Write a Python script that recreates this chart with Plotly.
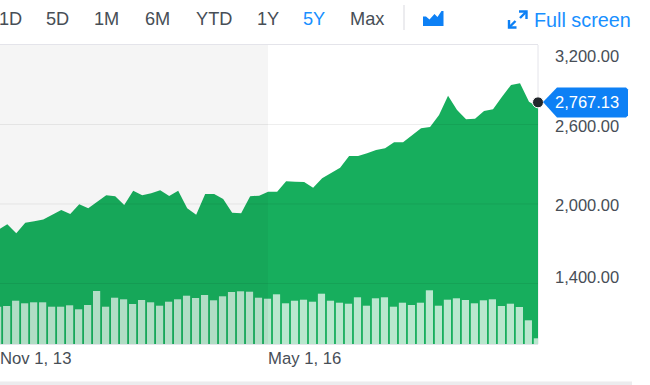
import plotly.graph_objects as go
import pandas as pd

W, H = 650, 385

dates = [d.strftime("%b %-d, %y") for d in pd.date_range("2013-11-01", periods=61, freq="MS")]
closes = [1804, 1847, 1779, 1859, 1869, 1882, 1919, 1955, 1925, 1998, 1968, 2017, 2066, 2058, 1992, 2100,
          2066, 2081, 2103, 2060, 2100, 1968, 1919, 2075, 2075, 2038, 1934, 1930, 2058, 2063, 2093, 2093,
          2171, 2168, 2166, 2123, 2194, 2234, 2274, 2362, 2362, 2383, 2408, 2420, 2466, 2466, 2517, 2571,
          2581, 2672, 2817, 2709, 2639, 2644, 2702, 2715, 2810, 2898, 2911, 2772, 2730]
volumes = [3.73, 3.8, 4.33, 4.07, 4.17, 4.17, 3.73, 3.73, 3.87, 3.47, 3.9, 5.3, 3.73, 4.63, 4.47, 4.0,
           4.4, 4.17, 3.83, 4.23, 4.47, 4.83, 4.6, 4.9, 4.37, 4.77, 5.2, 5.27, 5.23, 4.63, 4.53, 4.97,
           4.07, 4.33, 4.43, 4.23, 5.03, 4.33, 4.13, 4.03, 4.67, 3.83, 4.57, 4.67, 3.73, 4.13, 3.9, 4.13,
           5.37, 3.83, 4.43, 4.57, 4.4, 4.07, 4.37, 4.47, 3.8, 4.03, 3.7, 2.37, 0.57]
last_price = 2767.13
last_label = "2,767.13"
grid_values = [2600, 2000, 1400]
y_tick_labels = ["3,200.00", "2,600.00", "2,000.00", "1,400.00"]
y_tick_rows = [56, 126, 205, 277]
x_tick_labels = ["Nov 1, 13", "May 1, 16"]
x_tick_cols = [0, 268]
range_buttons = ["1D", "5D", "1M", "6M", "YTD", "1Y", "5Y", "Max"]
range_cols = [-1, 46, 94, 144.5, 196, 257, 303, 350]

BLUE = "#0d80f5"
GREY = "#474e56"
FONT = "Liberation Sans, Arial, sans-serif"


def px(x):
    return x / W


def py(y):
    return 1 - y / H


def path(points, close=True):
    d = "M" + " L".join(f"{px(x):.5f},{py(y):.5f}" for x, y in points)
    return d + (" Z" if close else "")


fig = go.Figure()
fig.add_trace(go.Scatter(x=dates, y=closes, mode="lines", line=dict(width=0), fill="tozeroy",
                         fillcolor="rgba(5,168,81,0.93)", hoverinfo="skip", showlegend=False))
fig.add_trace(go.Bar(x=dates, y=volumes, yaxis="y2", width=0.8, offset=-0.47,
                     marker=dict(color="rgba(255,255,255,0.7)", line=dict(width=0)),
                     hoverinfo="skip", showlegend=False))
fig.add_trace(go.Scatter(x=[dates[-1]], y=[last_price], mode="markers", cliponaxis=False,
                         marker=dict(size=11, color="#23272b", line=dict(width=1, color="#ffffff")),
                         hoverinfo="skip", showlegend=False))

shapes = []
# right edge of the frame, below the marks so the dot covers it
shapes.append(dict(type="line", xref="paper", yref="paper", x0=px(538), x1=px(538), y0=py(344), y1=py(45),
                   line=dict(color="#e4e4ea", width=1), layer="below"))
# shaded history band, above the marks
shapes.append(dict(type="rect", xref="paper", yref="paper", x0=0, x1=px(268), y0=py(344), y1=py(45),
                   fillcolor="rgba(0,0,0,0.04)", line=dict(width=0), layer="above"))
for v in grid_values:
    shapes.append(dict(type="line", xref="x domain", yref="y", x0=0, x1=1, y0=v, y1=v,
                       line=dict(color="rgba(0,0,0,0.07)", width=1), layer="above"))
# price tag
shapes.append(dict(type="path", xref="paper", yref="paper", layer="above", line=dict(width=0), fillcolor=BLUE,
                   path=path([(543, 102), (557, 87.5), (626, 87.5), (628, 89.5), (628, 115.5), (626, 117.5),
                              (557, 117.5)])))
# toolbar separator and chart-type icon
shapes.append(dict(type="line", xref="paper", yref="paper", x0=px(404), x1=px(404), y0=py(5), y1=py(30),
                   line=dict(color="#e6e6ea", width=1.5)))
shapes.append(dict(type="path", xref="paper", yref="paper", line=dict(width=0), fillcolor=BLUE,
                   path=path([(423, 26), (423, 16.5), (426, 16.5), (429.5, 19.5), (434.5, 14), (437.5, 17),
                              (441.5, 11), (443.5, 11), (443.5, 26)])))
# full screen icon
for pts in ([(519, 11.5), (526.5, 11.5), (526.5, 19)], [(526.5, 11.5), (520, 18)],
            [(509, 20), (509, 27.5), (516.5, 27.5)], [(509, 27.5), (515.5, 21)]):
    shapes.append(dict(type="path", xref="paper", yref="paper", line=dict(color=BLUE, width=2.4),
                       path=path(pts, close=False)))
# bottom strip
shapes.append(dict(type="rect", xref="paper", yref="paper", x0=0, x1=px(632), y0=0, y1=py(381.5),
                   fillcolor="#ececee", line=dict(width=0)))


def label(text, x, y, size, color, anchor="left"):
    return dict(text=text, xref="paper", yref="paper", x=px(x), y=py(y), xanchor=anchor, yanchor="middle",
                showarrow=False, borderpad=0, borderwidth=0, font=dict(family=FONT, size=size, color=color))


ann = []
for t, x in zip(range_buttons, range_cols):
    ann.append(label(t, x, 19, 18.2, "#188fff" if t == "5Y" else GREY))
ann.append(label("Full screen", 534, 20.5, 19.8, "#188fff"))
for t, y in zip(y_tick_labels, y_tick_rows):
    ann.append(label(t, 555, y, 16.5, GREY))
ann.append(label(last_label, 555, 102.5, 16.5, "#ffffff"))
for t, x in zip(x_tick_labels, x_tick_cols):
    ann.append(label(t, x, 358, 16.7, GREY))

fig.update_layout(
    width=W, height=H, autosize=False, margin=dict(l=0, r=0, t=0, b=0),
    paper_bgcolor="#ffffff", plot_bgcolor="rgba(0,0,0,0)",
    shapes=shapes, annotations=ann, bargap=0.2,
    xaxis=dict(type="category", domain=[0, 538 / W], range=[0.19, 60], showgrid=False, showticklabels=False,
               ticks="", showline=True, mirror=True, linecolor="#e4e4ea", linewidth=1, zeroline=False,
               fixedrange=True),
    yaxis=dict(domain=[py(344), py(45)], range=[943, 3200], side="right", showgrid=False, showticklabels=False,
               ticks="", showline=False, zeroline=False, fixedrange=True),
    yaxis2=dict(domain=[py(344), py(45)], range=[0, 29.9], overlaying="y", side="right", showgrid=False,
                showticklabels=False, ticks="", showline=False, zeroline=False, fixedrange=True),
)

fig.write_html("out.html", config={"displayModeBar": False},
               post_script="document.body.style.margin='0';")
